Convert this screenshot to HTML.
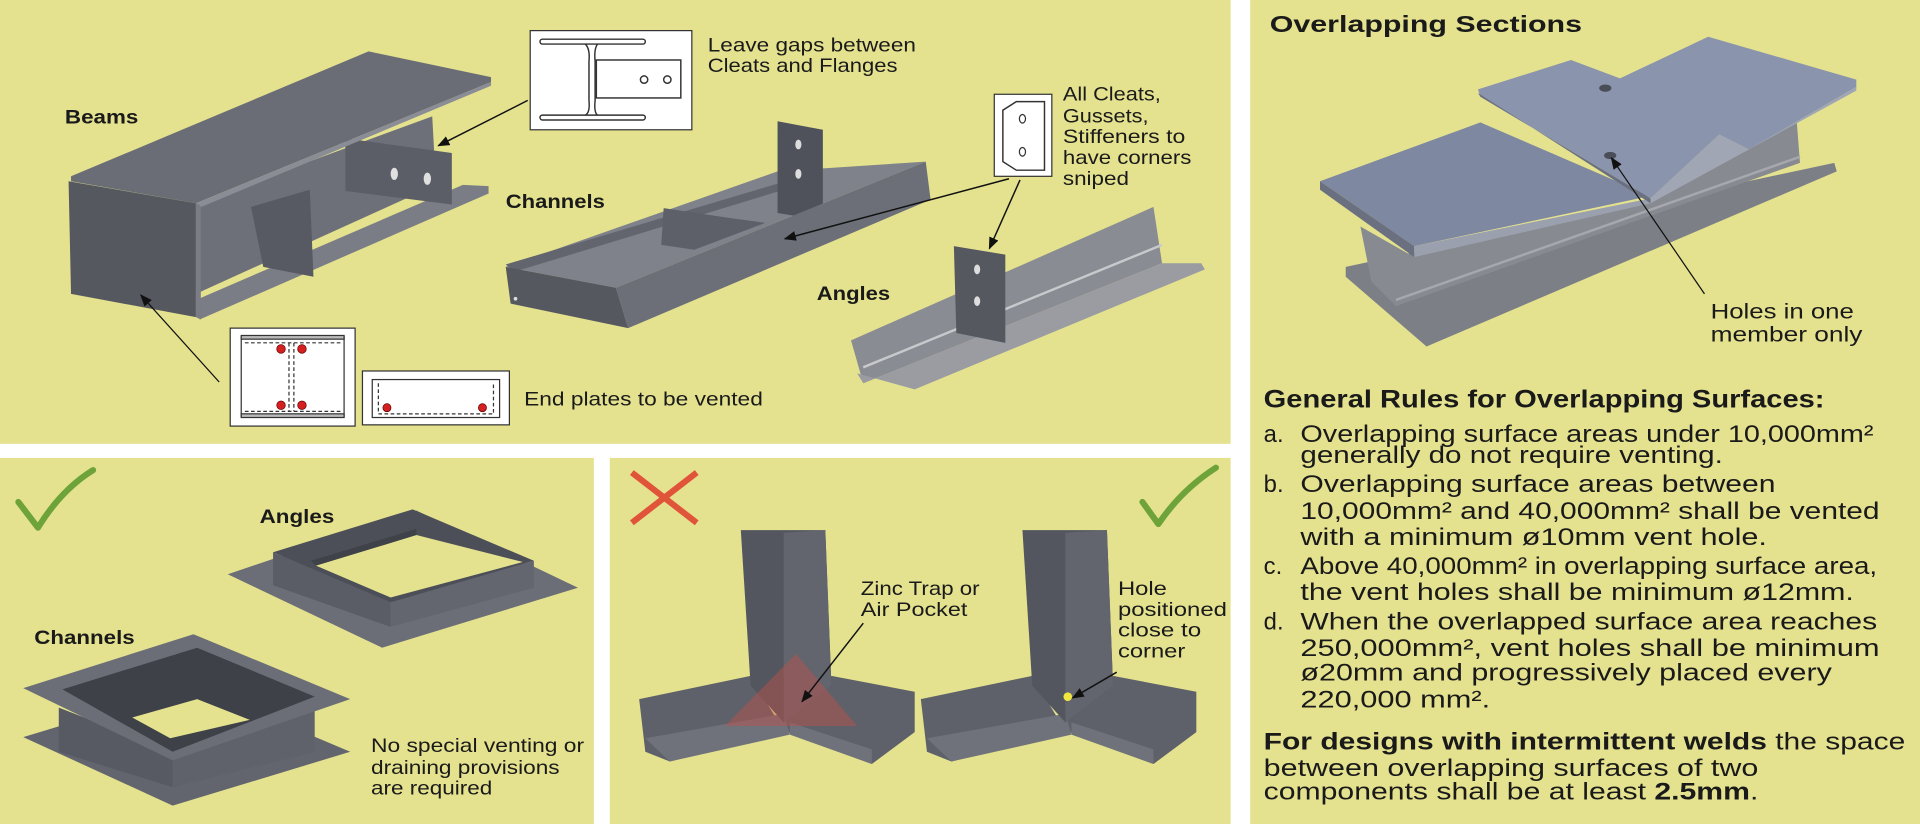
<!DOCTYPE html>
<html><head><meta charset="utf-8"><style>
html,body{margin:0;padding:0;background:#fff;width:1920px;height:824px;overflow:hidden}
svg{display:block}
text{font-family:"Liberation Sans",Arial,sans-serif;fill:#1a1a1a}
.b{font-weight:bold}
</style></head><body>
<svg width="1920" height="824" viewBox="0 0 1568 673" preserveAspectRatio="none" xmlns="http://www.w3.org/2000/svg">
<defs>
<marker id="ah" markerWidth="10" markerHeight="8" refX="9" refY="4" orient="auto" markerUnits="userSpaceOnUse"><path d="M0,0 L10,4 L0,8 z" fill="#111"/></marker>
</defs>
<rect width="1568" height="673" fill="#fff"/>
<rect x="0" y="0" width="1005" height="362.5" fill="#e4e28f"/>
<rect x="0" y="374" width="485" height="299" fill="#e4e28f"/>
<rect x="498" y="374" width="507" height="299" fill="#e4e28f"/>
<rect x="1021" y="0" width="547" height="673" fill="#e4e28f"/>

<!-- ===== TOP LEFT ===== -->
<text x="53" y="101" class="b" font-size="16" textLength="60" lengthAdjust="spacingAndGlyphs">Beams</text>
<!-- beam -->
<polygon points="160,166 353,95 356,151 160,240" fill="#6e7079"/>
<polygon points="160,245 378,151 399,152 399,158 163,261" fill="#7a7d85"/>
<polygon points="205,169 253,155 256,226 215,218" fill="#575a62"/>
<polygon points="282,113 369,125 369,167 282,156" fill="#5b5e66"/>
<ellipse cx="322" cy="142" rx="3" ry="5" fill="#e0e0e0"/>
<ellipse cx="349" cy="146" rx="3" ry="5" fill="#e0e0e0"/>
<polygon points="58,144 301,42 401,63 401,67 160,166 58,148" fill="#6a6d76"/>
<polygon points="160,166 401,67 401,70 162,170" fill="#8a8d95"/>
<polygon points="56,148 160,166 160,259 58,240" fill="#55585f"/>
<polygon points="160,166 164,168 164,261 160,259" fill="#7a7d85"/>
<!-- callout box 1 -->
<rect x="433" y="25" width="132" height="81" fill="#fff" stroke="#333" stroke-width="1"/>
<g fill="none" stroke="#333" stroke-width="1.2">
<rect x="441" y="32" width="86" height="4" rx="2"/>
<rect x="441" y="94" width="86" height="4" rx="2"/>
<path d="M478,36 Q482,40 481,50 L481,82 Q482,92 478,94 M488,36 Q485,40 486,50 L486,82 Q485,92 488,94"/>
<rect x="487" y="49" width="69" height="31"/>
<circle cx="526" cy="65" r="3"/><circle cx="545" cy="65" r="3"/>
</g>
<line x1="431" y1="82" x2="358" y2="119" stroke="#111" stroke-width="1.2" marker-end="url(#ah)"/>
<text x="578" y="42" font-size="15.5" textLength="170" lengthAdjust="spacingAndGlyphs">Leave gaps between</text>
<text x="578" y="59" font-size="15.5" textLength="155" lengthAdjust="spacingAndGlyphs">Cleats and Flanges</text>

<!-- channel -->
<text x="413" y="170" class="b" font-size="16" textLength="81" lengthAdjust="spacingAndGlyphs">Channels</text>
<polygon points="413,218 635,140 756,132 503,235" fill="#7f828a"/>
<polygon points="413,216 635,150 640,155 420,222" fill="#62656d"/>
<polygon points="542,170 596,178 625,182 567,204 540,200" fill="#5d6068"/>
<polygon points="635,99 672,106 672,180 635,174" fill="#4f525a"/>
<ellipse cx="652" cy="118" rx="2.5" ry="4" fill="#ddd"/>
<ellipse cx="652" cy="142" rx="2.5" ry="4" fill="#ddd"/>
<polygon points="503,235 756,132 760,163 513,268" fill="#6c6f78"/>
<polygon points="413,218 503,235 513,268 417,248" fill="#55585f"/>
<circle cx="421" cy="244" r="1.5" fill="#ddd"/>
<!-- box 2 -->
<rect x="812" y="77" width="47" height="67" fill="#fff" stroke="#333" stroke-width="1"/>
<polygon points="830,83 853,83 853,139 830,139 819,132 819,90" fill="none" stroke="#333" stroke-width="1.2"/>
<ellipse cx="835" cy="97" rx="2.5" ry="3.5" fill="none" stroke="#333"/>
<ellipse cx="835" cy="124" rx="2.5" ry="3.5" fill="none" stroke="#333"/>
<line x1="824" y1="146" x2="641" y2="195" stroke="#111" stroke-width="1.2" marker-end="url(#ah)"/>
<line x1="833" y1="147" x2="808" y2="203" stroke="#111" stroke-width="1.2" marker-end="url(#ah)"/>
<text x="868" y="82" font-size="15.5" textLength="80" lengthAdjust="spacingAndGlyphs">All Cleats,</text>
<text x="868" y="100" font-size="15.5" textLength="70" lengthAdjust="spacingAndGlyphs">Gussets,</text>
<text x="868" y="117" font-size="15.5" textLength="100" lengthAdjust="spacingAndGlyphs">Stiffeners to</text>
<text x="868" y="134" font-size="15.5" textLength="105" lengthAdjust="spacingAndGlyphs">have corners</text>
<text x="868" y="151" font-size="15.5" textLength="54" lengthAdjust="spacingAndGlyphs">sniped</text>

<!-- angle -->
<text x="667" y="245" class="b" font-size="16" textLength="60" lengthAdjust="spacingAndGlyphs">Angles</text>
<polygon points="695,278 942,169 949,215 705,313" fill="#8a8c93"/>
<polygon points="705,313 949,215 981,215 984,220 747,318 700,305" fill="#9a9ca2"/>
<line x1="705" y1="300" x2="949" y2="200" stroke="#c8c9cc" stroke-width="2"/>
<polygon points="779,201 821,208 821,280 781,272" fill="#55585f"/>
<ellipse cx="798" cy="220" rx="2.5" ry="4" fill="#ddd"/>
<ellipse cx="798" cy="246" rx="2.5" ry="4" fill="#ddd"/>

<!-- end plates -->
<line x1="179" y1="312" x2="115" y2="241" stroke="#111" stroke-width="1" marker-end="url(#ah)"/>
<rect x="188" y="268" width="102" height="80" fill="#fff" stroke="#333" stroke-width="1"/>
<g fill="none" stroke="#333" stroke-width="1">
<rect x="197" y="275" width="84" height="65"/>
<rect x="197" y="274" width="84" height="3" fill="#bbb"/>
<rect x="197" y="338" width="84" height="3" fill="#bbb"/>
<path d="M200,280 H278 M200,336 H278 M236,280 V336 M240,280 V336" stroke-dasharray="3,2"/>
</g>
<g fill="#d42020" stroke="#600" stroke-width="0.6">
<circle cx="229.5" cy="285" r="3.5"/><circle cx="246.6" cy="285" r="3.5"/>
<circle cx="229.5" cy="331" r="3.5"/><circle cx="246.6" cy="331" r="3.5"/>
</g>
<rect x="296" y="303" width="120" height="44" fill="#fff" stroke="#333" stroke-width="1"/>
<g fill="none" stroke="#333" stroke-width="1">
<rect x="304" y="310" width="104" height="31"/>
<path d="M309,313 V338 H403 V313" stroke-dasharray="3,2"/>
</g>
<circle cx="316" cy="333" r="3.3" fill="#d42020" stroke="#600" stroke-width="0.6"/>
<circle cx="394" cy="333" r="3.3" fill="#d42020" stroke="#600" stroke-width="0.6"/>
<text x="428" y="331" font-size="15.5" textLength="195" lengthAdjust="spacingAndGlyphs">End plates to be vented</text>

<!-- ===== BOTTOM LEFT ===== -->
<path d="M15,410 L31,431 Q50,400 76,384" fill="none" stroke="#6ea33a" stroke-width="5" stroke-linecap="round" stroke-linejoin="round"/>
<text x="212" y="427" class="b" font-size="16" textLength="61" lengthAdjust="spacingAndGlyphs">Angles</text>
<polygon points="186,469 340,417 472,480 312,529" fill="#6b6e77"/>
<polygon points="223,451 337,416 436,458 319,492" fill="#4c4f57"/>
<polygon points="223,451 319,492 319,512 223,478" fill="#5a5d65"/>
<polygon points="319,492 436,458 436,480 319,512" fill="#63666e"/>
<polygon points="258,462 340,437 427,459 319,488" fill="#e4e28f"/>
<polygon points="258,462 340,437 340,432 254,458" fill="#3f4249"/>
<text x="28" y="526" class="b" font-size="16" textLength="82" lengthAdjust="spacingAndGlyphs">Channels</text>
<polygon points="19,602 158,560 286,614 141,658" fill="#62656d"/>
<polygon points="48,578 141,614 141,643 48,614" fill="#575a62"/>
<polygon points="141,614 257,569 257,614 141,643" fill="#5f626a"/>
<polygon points="19,562 158,518 286,571 141,621" fill="#6b6e77"/>
<polygon points="51,563 161,529 257,569 141,614" fill="#3e4148"/>
<polygon points="108,586 161,571 204,588 139,603" fill="#e4e28f"/>
<text x="303" y="614" font-size="15.5" textLength="174" lengthAdjust="spacingAndGlyphs">No special venting or</text>
<text x="303" y="632" font-size="15.5" textLength="154" lengthAdjust="spacingAndGlyphs">draining provisions</text>
<text x="303" y="649" font-size="15.5" textLength="99" lengthAdjust="spacingAndGlyphs">are required</text>

<!-- ===== BOTTOM MIDDLE ===== -->
<path d="M516,386 L569,427 M569,386 L516,427" stroke="#e0553a" stroke-width="5"/>
<path d="M933,410 L946,428 Q965,400 993,382" fill="none" stroke="#6ea33a" stroke-width="5" stroke-linecap="round" stroke-linejoin="round"/>
<g id="tee">
<polygon points="522,571 613,552 640,597 547,622 527,614" fill="#5e6169"/>
<polygon points="679,552 747,565 747,598 712,624 645,599 640,590" fill="#5e6169"/>
<polygon points="527,603 640,583 645,600 547,622" fill="#6f727a"/>
<polygon points="645,590 712,612 712,624 645,600" fill="#6f727a"/>
<polygon points="605,433 674,433 679,560 640,590 613,560" fill="#53565e"/>
<polygon points="640,435 674,433 679,560 640,590" fill="#62656d"/>
</g>
<use href="#tee" transform="translate(230,0)"/>
<polygon points="592,593 650,534 700,593" fill="#c0504a" fill-opacity="0.45"/>
<circle cx="872" cy="569" r="3.5" fill="#f2e640"/>
<line x1="705" y1="509" x2="655" y2="573" stroke="#111" stroke-width="1.2" marker-end="url(#ah)"/>
<line x1="912" y1="549" x2="876" y2="570" stroke="#111" stroke-width="1.2" marker-end="url(#ah)"/>
<text x="703" y="486" font-size="15.5" textLength="97" lengthAdjust="spacingAndGlyphs">Zinc Trap or</text>
<text x="703" y="503" font-size="15.5" textLength="87" lengthAdjust="spacingAndGlyphs">Air Pocket</text>
<text x="913" y="486" font-size="15.5" textLength="40" lengthAdjust="spacingAndGlyphs">Hole</text>
<text x="913" y="503" font-size="15.5" textLength="89" lengthAdjust="spacingAndGlyphs">positioned</text>
<text x="913" y="520" font-size="15.5" textLength="68" lengthAdjust="spacingAndGlyphs">close to</text>
<text x="913" y="537" font-size="15.5" textLength="55" lengthAdjust="spacingAndGlyphs">corner</text>

<!-- ===== RIGHT ===== -->
<text x="1037" y="26" class="b" font-size="19" textLength="255" lengthAdjust="spacingAndGlyphs">Overlapping Sections</text>
<!-- I beam -->
<polygon points="1099,218 1498,133 1500,140 1165,283 1099,226" fill="#7c7f86"/>
<polygon points="1111,185 1155,210 1348,163 1428,122 1467,95 1470,133 1140,250 1120,230" fill="#878a90"/>
<line x1="1140" y1="245" x2="1470" y2="128" stroke="#a6a8ad" stroke-width="2"/>
<polygon points="1078,148 1209,100 1348,160 1155,201" fill="#7e88a0"/>
<polygon points="1078,148 1155,201 1155,210 1078,155" fill="#6b7080"/>
<polygon points="1155,201 1348,162 1348,166 1155,210" fill="#9aa0ad"/>
<polygon points="1207,73 1283,49 1323,64 1395,30 1516,65 1516,71 1428,122 1404,110 1348,162 1209,79" fill="#8a94ac"/>
<polygon points="1209,79 1348,162 1348,166 1207,76" fill="#6b7080"/>
<polygon points="1348,162 1404,110 1428,122 1516,71 1516,74 1348,166" fill="#a0a6b3"/>
<ellipse cx="1311" cy="72" rx="5" ry="3" fill="#4a4e58"/>
<ellipse cx="1315" cy="127" rx="5" ry="3" fill="#4a4e58"/>
<line x1="1392" y1="240" x2="1316" y2="129" stroke="#111" stroke-width="1" marker-end="url(#ah)"/>
<text x="1397" y="260" font-size="17" textLength="117" lengthAdjust="spacingAndGlyphs">Holes in one</text>
<text x="1397" y="279" font-size="17" textLength="124" lengthAdjust="spacingAndGlyphs">member only</text>

<text x="1032" y="333" class="b" font-size="20.5" textLength="458" lengthAdjust="spacingAndGlyphs">General Rules for Overlapping Surfaces:</text>
<g font-size="19.5">
<text x="1032" y="361">a.</text>
<text x="1062" y="361" textLength="468" lengthAdjust="spacingAndGlyphs">Overlapping surface areas under 10,000mm²</text>
<text x="1062" y="378" textLength="345" lengthAdjust="spacingAndGlyphs">generally do not require venting.</text>
<text x="1032" y="402">b.</text>
<text x="1062" y="402" textLength="388" lengthAdjust="spacingAndGlyphs">Overlapping surface areas between</text>
<text x="1062" y="424" textLength="473" lengthAdjust="spacingAndGlyphs">10,000mm² and 40,000mm² shall be vented</text>
<text x="1062" y="445" textLength="381" lengthAdjust="spacingAndGlyphs">with a minimum ø10mm vent hole.</text>
<text x="1032" y="469">c.</text>
<text x="1062" y="469" textLength="471" lengthAdjust="spacingAndGlyphs">Above 40,000mm² in overlapping surface area,</text>
<text x="1062" y="490" textLength="452" lengthAdjust="spacingAndGlyphs">the vent holes shall be minimum ø12mm.</text>
<text x="1032" y="514">d.</text>
<text x="1062" y="514" textLength="471" lengthAdjust="spacingAndGlyphs">When the overlapped surface area reaches</text>
<text x="1062" y="536" textLength="473" lengthAdjust="spacingAndGlyphs">250,000mm², vent holes shall be minimum</text>
<text x="1062" y="556" textLength="434" lengthAdjust="spacingAndGlyphs">ø20mm and progressively placed every</text>
<text x="1062" y="578" textLength="155" lengthAdjust="spacingAndGlyphs">220,000 mm².</text>
<text x="1032" y="612" textLength="524" lengthAdjust="spacingAndGlyphs"><tspan font-weight="bold">For designs with intermittent welds</tspan> the space</text>
<text x="1032" y="634" textLength="404" lengthAdjust="spacingAndGlyphs">between overlapping surfaces of two</text>
<text x="1032" y="653" textLength="404" lengthAdjust="spacingAndGlyphs">components shall be at least <tspan font-weight="bold">2.5mm</tspan>.</text>
</g>
</svg>
</body></html>
